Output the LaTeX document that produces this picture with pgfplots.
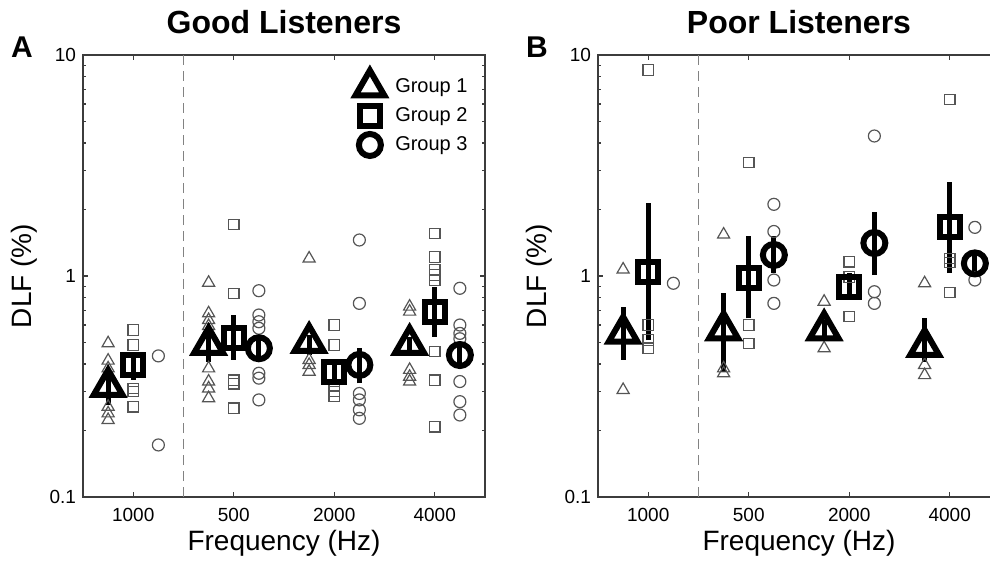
\documentclass[border=0pt]{standalone}
\usepackage{fontspec}
\setmainfont{Liberation Sans}
\usepackage{pgfplots}
\pgfplotsset{compat=1.18}

\definecolor{smallc}{RGB}{85,85,85}
\definecolor{spinec}{RGB}{60,60,60}
\definecolor{dashc}{RGB}{130,130,130}

\pgfplotsset{
  dlfsep/.style={dashc, dash pattern=on 5pt off 3pt, line width=0.6pt, forget plot},
  dlfsmtri/.style={only marks, smallc, mark=triangle, mark size=3.5pt, mark options={line width=0.6pt}, forget plot},
  dlfsmsq/.style={only marks, smallc, mark=square, mark size=2.6pt, mark options={line width=0.6pt}, forget plot},
  dlfsmcir/.style={only marks, smallc, mark=o, mark size=3pt, mark options={line width=0.6pt}, forget plot},
  dlfbgtri/.style={only marks, black, mark=triangle, mark size=8.3pt, mark options={line width=3pt}},
  dlfbgsq/.style={only marks, black, mark=square, mark size=5pt, mark options={line width=3pt}},
  dlfbgcir/.style={only marks, black, mark=o, mark size=5.5pt, mark options={line width=3pt}},
  dlfebar/.style={black, line width=2.5pt, mark=none, unbounded coords=jump, forget plot},
}

\begin{document}
\begin{tikzpicture}
% ---------------- A: good listeners
\begin{axis}[at={(41.5pt,32.5pt)}, anchor=south west,
  scale only axis, width=201pt, height=221pt,
  ymode=log, ymin=0.1, ymax=10, xmin=0.5, xmax=4.5,
  xtick={1,2,3,4}, xticklabels={1000,500,2000,4000},
  ytick={0.1,1,10}, yticklabels={0.1,1,10},
  tick align=inside, major tick length=2.5pt, minor tick length=1.5pt,
  axis line style={spinec, line width=0.8pt},
  tick style={spinec, line width=0.6pt},
  tick label style={font=\fontsize{9.5}{9.5}\selectfont},
  xticklabel style={yshift=-2pt},
  xlabel={Frequency (Hz)}, ylabel={DLF (\%)},
  xlabel style={at={(axis description cs:0.5,-0.104)}, anchor=center, font=\fontsize{14}{14}\selectfont},
  ylabel style={at={(axis description cs:-0.145,0.5)}, anchor=center, font=\fontsize{14}{14}\selectfont},
  clip=false,
  legend style={draw=none, fill=none, at={(axis description cs:0.662,0.975)}, anchor=north west,
    font=\fontsize{10}{10}\selectfont, row sep=2.0pt, column sep=3.5pt},
  legend cell align=left]
\addplot[dlfsep] coordinates {(1.5,0.1) (1.5,10)};
% group 1
\addplot[dlfsmtri] coordinates {
  (0.75,0.496) (0.75,0.414) (0.75,0.382) (0.75,0.256) (0.75,0.239) (0.75,0.223)
  (1.75,0.932) (1.75,0.678) (1.75,0.632) (1.75,0.594) (1.75,0.382) (1.75,0.333) (1.75,0.310) (1.75,0.280)
  (2.75,1.20) (2.75,0.417) (2.75,0.396) (2.75,0.369)
  (3.75,0.727) (3.75,0.69) (3.75,0.376) (3.75,0.350) (3.75,0.333)};
% group 2
\addplot[dlfsmsq] coordinates {
  (1,0.570) (1,0.487) (1,0.310) (1,0.300) (1,0.256)
  (2,1.71) (2,0.835) (2,0.338) (2,0.325) (2,0.252)
  (3,0.600) (3,0.487) (3,0.316) (3,0.300) (3,0.286)
  (4,1.56) (4,1.22) (4,1.065) (4,1.01) (4,0.959) (4,0.455) (4,0.338) (4,0.208)};
% group 3
\addplot[dlfsmcir] coordinates {
  (1.25,0.435) (1.25,0.172)
  (2.25,0.858) (2.25,0.666) (2.25,0.621) (2.25,0.580) (2.25,0.363) (2.25,0.345) (2.25,0.275)
  (3.25,1.455) (3.25,0.752) (3.25,0.294) (3.25,0.275) (3.25,0.248) (3.25,0.227)
  (4.25,0.880) (4.25,0.600) (4.25,0.550) (4.25,0.520) (4.25,0.333) (4.25,0.270) (4.25,0.235)};
% error bars of the means
\addplot[dlfebar] coordinates {
  (0.75,0.26) (0.75,0.38) (0.75,nan)
  (1.75,0.41) (1.75,0.59) (1.75,nan)
  (2.75,0.44) (2.75,0.54) (2.75,nan)
  (3.75,0.45) (3.75,0.53) (3.75,nan)
  (1,0.34) (1,0.45) (1,nan)
  (2,0.417) (2,0.666) (2,nan)
  (3,0.34) (3,0.40) (3,nan)
  (4,0.531) (4,0.895) (4,nan)
  (2.25,0.42) (2.25,0.53) (2.25,nan)
  (3.25,0.327) (3.25,0.471) (3.25,nan)
  (4.25,0.39) (4.25,0.48)};
% means
\addplot[dlfbgtri] coordinates {(0.75,0.316) (1.75,0.49) (2.75,0.50) (3.75,0.49)};
\addplot[dlfbgsq] coordinates {(1,0.396) (2,0.523) (3,0.369) (4,0.690)};
\addplot[dlfbgcir] coordinates {(2.25,0.471) (3.25,0.396) (4.25,0.439)};
\legend{Group 1, Group 2, Group 3}
\node[font=\bfseries\fontsize{15}{15}\selectfont] at (axis description cs:-0.152,1.018) {A};
\node[font=\bfseries\fontsize{16}{16}\selectfont] at (axis description cs:0.5,1.075) {Good Listeners};
\end{axis}

% ---------------- B: poor listeners
\begin{axis}[at={(299pt,32.5pt)}, anchor=south west,
  scale only axis, width=201pt, height=221pt,
  ymode=log, ymin=0.1, ymax=10, xmin=0.5, xmax=4.5,
  xtick={1,2,3,4}, xticklabels={1000,500,2000,4000},
  ytick={0.1,1,10}, yticklabels={0.1,1,10},
  tick align=inside, major tick length=2.5pt, minor tick length=1.5pt,
  axis line style={spinec, line width=0.8pt},
  tick style={spinec, line width=0.6pt},
  tick label style={font=\fontsize{9.5}{9.5}\selectfont},
  xticklabel style={yshift=-2pt},
  xlabel={Frequency (Hz)}, ylabel={DLF (\%)},
  xlabel style={at={(axis description cs:0.5,-0.104)}, anchor=center, font=\fontsize{14}{14}\selectfont},
  ylabel style={at={(axis description cs:-0.145,0.5)}, anchor=center, font=\fontsize{14}{14}\selectfont},
  clip=false]
\addplot[dlfsep] coordinates {(1.5,0.1) (1.5,10)};
\addplot[dlfsmtri] coordinates {
  (0.75,1.07) (0.75,0.305)
  (1.75,1.54) (1.75,0.382) (1.75,0.363)
  (2.75,0.765) (2.75,0.471)
  (3.75,0.927) (3.75,0.396) (3.75,0.356)};
\addplot[dlfsmsq] coordinates {
  (1,8.55) (1,0.600) (1,0.513) (1,0.471)
  (2,3.26) (2,0.600) (2,0.496)
  (3,1.16) (3,0.99) (3,0.655)
  (4,6.3) (4,1.20) (4,1.15) (4,0.841)};
\addplot[dlfsmcir] coordinates {
  (1.25,0.927)
  (2.25,2.11) (2.25,1.59) (2.25,0.959) (2.25,0.752)
  (3.25,4.30) (3.25,0.849) (3.25,0.752)
  (4.25,1.66) (4.25,0.959)};
\addplot[dlfebar] coordinates {
  (0.75,0.417) (0.75,0.727) (0.75,nan)
  (1.75,0.369) (1.75,0.835) (1.75,nan)
  (2.75,0.52) (2.75,0.63) (2.75,nan)
  (3.75,0.41) (3.75,0.643) (3.75,nan)
  (1,0.513) (1,2.15) (1,nan)
  (2,0.643) (2,1.52) (2,nan)
  (3,0.78) (3,1.03) (3,nan)
  (4,1.03) (4,2.67) (4,nan)
  (2.25,1.03) (2.25,1.51) (2.25,nan)
  (3.25,1.01) (3.25,1.95) (3.25,nan)
  (4.25,1.05) (4.25,1.25)};
\addplot[dlfbgtri] coordinates {(0.75,0.55) (1.75,0.57) (2.75,0.57) (3.75,0.479)};
\addplot[dlfbgsq] coordinates {(1,1.046) (2,0.976) (3,0.895) (4,1.67)};
\addplot[dlfbgcir] coordinates {(2.25,1.245) (3.25,1.41) (4.25,1.14)};
\node[font=\bfseries\fontsize{15}{15}\selectfont] at (axis description cs:-0.152,1.018) {B};
\node[font=\bfseries\fontsize{16}{16}\selectfont] at (axis description cs:0.5,1.075) {Poor Listeners};
\end{axis}
\pgfresetboundingbox
\path[use as bounding box] (0,0) rectangle (495pt,281pt);
\end{tikzpicture}
\end{document}
